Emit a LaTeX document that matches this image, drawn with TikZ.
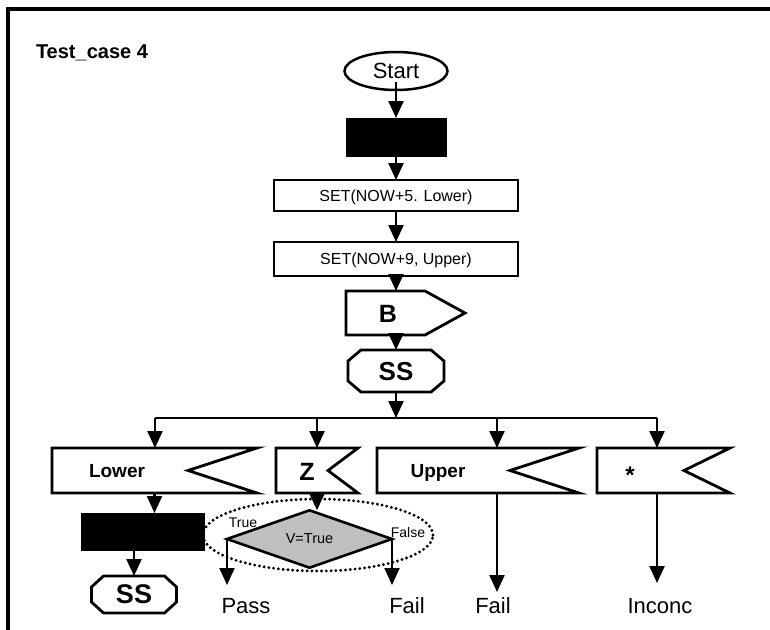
\documentclass[tikz,border=0pt]{standalone}
\usepackage{fontspec}
\setmainfont{Liberation Sans}
\usetikzlibrary{arrows.meta,shapes.geometric,calc}

% outline of a box with a notch cut into its right side
\newcommand\notchbox[2]{\draw[frame] (#1.north west) -- (#1.north east) -- ($(#1.east)+(-#2,0)$) -- (#1.south east) -- (#1.south west) -- cycle;}
% octagonal outline (chamfered corners) around a holder node
\newcommand\octbox[3]{\draw[frame] ($(#1.north west)+(#2,0)$) -- ($(#1.north east)+(-#2,0)$) -- ($(#1.north east)+(0,#3)$) -- ($(#1.south east)+(0,-#3)$) -- ($(#1.south east)+(-#2,0)$) -- ($(#1.south west)+(#2,0)$) -- ($(#1.south west)+(0,-#3)$) -- ($(#1.north west)+(0,#3)$) -- cycle;}

\begin{document}
\begin{tikzpicture}[x=1pt,y=-1pt,
  every node/.style={inner sep=0pt,outer sep=0pt,text depth=0pt},
  frame/.style={line width=2.8pt,line join=miter},
  plain/.style={line width=2.3pt},
  arr/.style={line width=2.3pt,-{Triangle[width=15pt,length=17pt]}},
  blackbox/.style={rectangle,fill=black,draw=black,line width=1pt},
  lbl/.style={font=\fontsize{22}{25}\selectfont},
  blbl/.style={font=\bfseries\fontsize{19}{22}\selectfont},
  small/.style={font=\fontsize{14}{16}\selectfont}
]
\useasboundingbox (0,0) rectangle (770,629);
\fill[white] (0,0) rectangle (770,629);

% outer frame (right and bottom edges lie beyond the page)
\draw[line width=3.2pt] (8,640) -- (8,9) -- (790,9);

\node[anchor=west,font=\bfseries\fontsize{20}{23}\selectfont] (title) at (36,52) {Test\_case 4};

% main column
\node[ellipse,draw,line width=2.5pt,minimum width=103pt,minimum height=38pt,font=\fontsize{22}{25}\selectfont] (start) at (396,71) {Start};
\node[blackbox,minimum width=100pt,minimum height=38pt] (blk1) at (396,137) {};
\node[rectangle,draw,frame,minimum width=244pt,minimum height=31pt,font=\fontsize{16}{19}\selectfont] (set1) at (396,195.5) {SET(NOW+5. Lower)};
\node[rectangle,draw,frame,minimum width=244pt,minimum height=34pt,font=\fontsize{16}{19}\selectfont] (set2) at (396,259) {SET(NOW+9, Upper)};

\node[rectangle,minimum width=119pt,minimum height=44pt] (bsig) at (405.5,313) {};
\draw[frame] (bsig.north west) -- ($(bsig.north east)+(-40,0)$) -- (bsig.east) -- ($(bsig.south east)+(-40,0)$) -- (bsig.south west) -- cycle;
\node[font=\bfseries\fontsize{25}{28}\selectfont] (btxt) at (388,314) {B};

\node[rectangle,minimum width=96pt,minimum height=42pt,font=\bfseries\fontsize{26}{29}\selectfont] (ss) at (396,371) {SS};
\octbox{ss}{13}{11}

% branch bus
\coordinate (busL) at (155,418);
\coordinate (busU) at (497,418);
\coordinate (busR) at (657,418);

% receive boxes
\node[rectangle,minimum width=205pt,minimum height=45pt] (lower) at (154.5,470.5) {};
\notchbox{lower}{69}
\node[blbl] (lowert) at (117,471) {Lower};

\node[rectangle,minimum width=82pt,minimum height=45pt] (zbox) at (317,470.5) {};
\notchbox{zbox}{30}
\node[font=\bfseries\fontsize{25}{28}\selectfont] (zt) at (307,472) {Z};

\node[rectangle,minimum width=202pt,minimum height=45pt] (upper) at (478,470.5) {};
\notchbox{upper}{69}
\node[blbl] (uppert) at (438,471) {Upper};

\node[rectangle,minimum width=133pt,minimum height=45pt] (star) at (663.5,470.5) {};
\notchbox{star}{46}
\node[font=\bfseries\fontsize{24}{27}\selectfont] (start2) at (630,475) {*};

% lower left column
\node[blackbox,minimum width=123pt,minimum height=37pt] (blk2) at (142.5,531.5) {};
\node[rectangle,minimum width=85pt,minimum height=37pt,font=\bfseries\fontsize{27}{30}\selectfont] (ss2) at (134,594.5) {SS};
\octbox{ss2}{12}{11}

% decision group
\node[ellipse,draw,line width=3.2pt,dash pattern=on 0pt off 4.8pt,line cap=round,minimum width=230pt,minimum height=72pt] (grp) at (318,535) {};
\node[diamond,draw,line width=2.6pt,fill=black!25,minimum width=165pt,minimum height=52pt,font=\fontsize{14.5}{17}\selectfont] (dia) at (309.5,539) {V=True};
\node[small] (truel) at (243,523) {True};
\node[small] (falsel) at (408,532) {False};

% verdicts
\node[lbl] (pass) at (246,606) {Pass};
\node[lbl] (fail1) at (407,606) {Fail};
\node[lbl] (fail2) at (493,606) {Fail};
\node[lbl] (inconc) at (660,606) {Inconc};
\coordinate (passtip) at (227,585);
\coordinate (fail1tip) at (392,585);
\coordinate (fail2tip) at (497,592);
\coordinate (inconctip) at (657,583);

% connectors
\draw[arr] ([yshift=-11pt]start.center) -- (blk1.north);
\draw[arr] (blk1.south) -- (set1.north);
\draw[arr] (set1.south) -- (set2.north);
\draw[arr] (set2.south) -- (bsig.north -| set2.south);
\draw[arr] (bsig.south -| set2.south) -- (ss.north);
\draw[arr] (ss.south) -- (ss.south |- busL);
\draw[plain] (busL) -- (busR);
\draw[arr] (busL) -- (busL |- lower.north);
\draw[arr] (zbox.north |- busL) -- (zbox.north);
\draw[arr] (busU) -- (busU |- upper.north);
\draw[arr] (busR) -- (busR |- star.north);

\draw[arr] (lower.south) -- (lower.south |- blk2.north);
\draw[arr] (blk2.south -| ss2.north) -- (ss2.north);
\draw[arr] (zbox.south) -- (zbox.south |- dia.north);
\draw[arr] (dia.west) -- (passtip);
\draw[arr] (dia.east) -- (fail1tip);
\draw[arr] (upper.south -| fail2tip) -- (fail2tip);
\draw[arr] (star.south -| inconctip) -- (inconctip);
\end{tikzpicture}
\end{document}
